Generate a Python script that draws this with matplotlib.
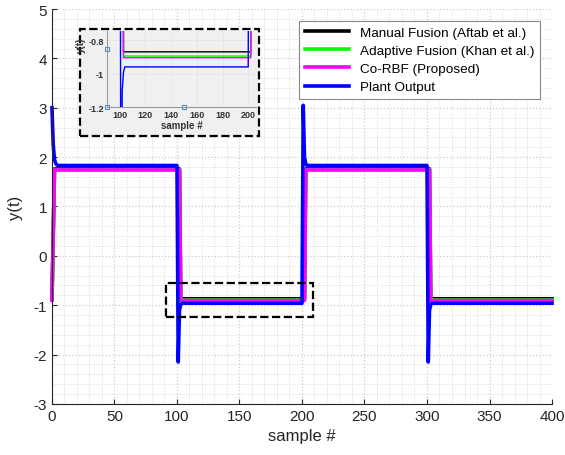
import matplotlib.pyplot as plt
from matplotlib.patches import Rectangle
from matplotlib.ticker import MultipleLocator

plt.rcParams['font.family'] = ['Liberation Sans', 'DejaVu Sans']
plt.rcParams['axes.unicode_minus'] = False

# key points (sample #, y)
plant_x = [0, 1, 2, 3, 4, 5, 100, 101, 102, 103, 104, 200, 201, 202, 203, 204, 300, 301, 302, 303, 304, 400]
plant_y = [3.0, 2.25, 1.95, 1.87, 1.84, 1.83, 1.83, -2.15, -1.1, -0.99, -0.96, -0.96, 3.05, 2.0, 1.87, 1.83,
           1.83, -2.15, -1.1, -0.99, -0.96, -0.96]

corbf_x = [0, 2, 102, 103, 202, 203, 302, 303, 400]
corbf_y = [-0.9, 1.74, 1.74, -0.905, -0.905, 1.74, 1.74, -0.905, -0.905]

manual_x = [0, 2, 102, 103, 202, 203, 302, 303, 400]
manual_y = [-0.87, 1.76, 1.76, -0.87, -0.87, 1.76, 1.76, -0.87, -0.87]

adaptive_x = [0, 2, 102, 103, 202, 203, 302, 303, 400]
adaptive_y = [-0.895, 1.745, 1.745, -0.895, -0.895, 1.745, 1.745, -0.895, -0.895]

labels = ['Manual Fusion (Aftab et al.)', 'Adaptive Fusion (Khan et al.)',
          'Co-RBF (Proposed)', 'Plant Output']
colors = ['black', '#00ff00', '#ff00ff', '#0000ff']
series = [(manual_x, manual_y), (adaptive_x, adaptive_y), (corbf_x, corbf_y), (plant_x, plant_y)]

fig = plt.figure(figsize=(5.65, 4.56), dpi=100)
ax = fig.add_axes([0.092, 0.112, 0.885, 0.866])

for (xs, ys), c, lab in zip(series, colors, labels):
    ax.plot(xs, ys, color=c, lw=2.6, label=lab, clip_on=False)

ax.set_xlim(0, 400)
ax.set_ylim(-3, 5)
ax.xaxis.set_major_locator(MultipleLocator(50))
ax.yaxis.set_major_locator(MultipleLocator(1))
ax.xaxis.set_minor_locator(MultipleLocator(10))
ax.yaxis.set_minor_locator(MultipleLocator(0.2))
ax.grid(which='major', color='#cccccc', ls=':', lw=0.9)
ax.grid(which='minor', color='#d9d9d9', ls=':', lw=0.7)
ax.tick_params(which='both', direction='in', labelsize=11, colors='#262626')
ax.tick_params(which='minor', length=0)
for s in ['top', 'right']:
    ax.spines[s].set_visible(False)
for s in ['left', 'bottom']:
    ax.spines[s].set_color('#262626')
ax.set_xlabel('sample #', fontsize=12, color='#262626')
ax.set_ylabel('y(t)', fontsize=12, color='#262626', labelpad=8)

leg = ax.legend(loc='upper right', fontsize=9.7, handlelength=3.3, fancybox=False,
                framealpha=1, edgecolor='#888888', borderaxespad=0.9, labelspacing=0.42)
leg.get_frame().set_linewidth(0.8)

# zoom box in the main axes
ax.add_patch(Rectangle((91, -1.24), 118, 0.69, fill=False, ls='--', lw=1.6, ec='black', zorder=5))

# inset
fig.patches.append(Rectangle((0.1416, 0.6996), 0.317, 0.235, transform=fig.transFigure,
                             facecolor='#f0f0f0', edgecolor='black', ls='--', lw=1.6, zorder=1))
ins = fig.add_axes([0.189, 0.763, 0.264, 0.167])
ins.set_zorder(3)
ins.set_facecolor('#f0f0f0')
for (xs, ys), c in zip(series, colors):
    ins.plot(xs, ys, color=c, lw=1.0)
ins.plot([90, 90, 150], [-0.853, -1.2, -1.2], ls='none', marker='s', ms=3,
         mfc='none', mec='#4a90c8', mew=0.8, clip_on=False)
ins.set_xlim(90, 206)
ins.set_ylim(-1.2, -0.745)
ins.set_xticks([100, 120, 140, 160, 180, 200])
ins.set_yticks([-1.2, -1, -0.8])
ins.set_yticklabels(['-1.2', '-1', '-0.8'])
ins.grid(color='#e2e2e2', lw=0.5)
ins.tick_params(labelsize=6.5, length=0, pad=2, colors='#333333')
for t in ins.get_xticklabels() + ins.get_yticklabels():
    t.set_fontweight('bold')
for s in ['top', 'right']:
    ins.spines[s].set_visible(False)
for s in ['left', 'bottom']:
    ins.spines[s].set_color('#999999')
ins.set_xlabel('sample #', fontsize=7, fontweight='bold', color='#333333', labelpad=1)
ins.set_ylabel('y(t)', fontsize=7, fontweight='bold', color='#333333', labelpad=0)
ins.yaxis.set_label_coords(-0.14, 0.82)

fig.savefig('out.png', dpi=100)
